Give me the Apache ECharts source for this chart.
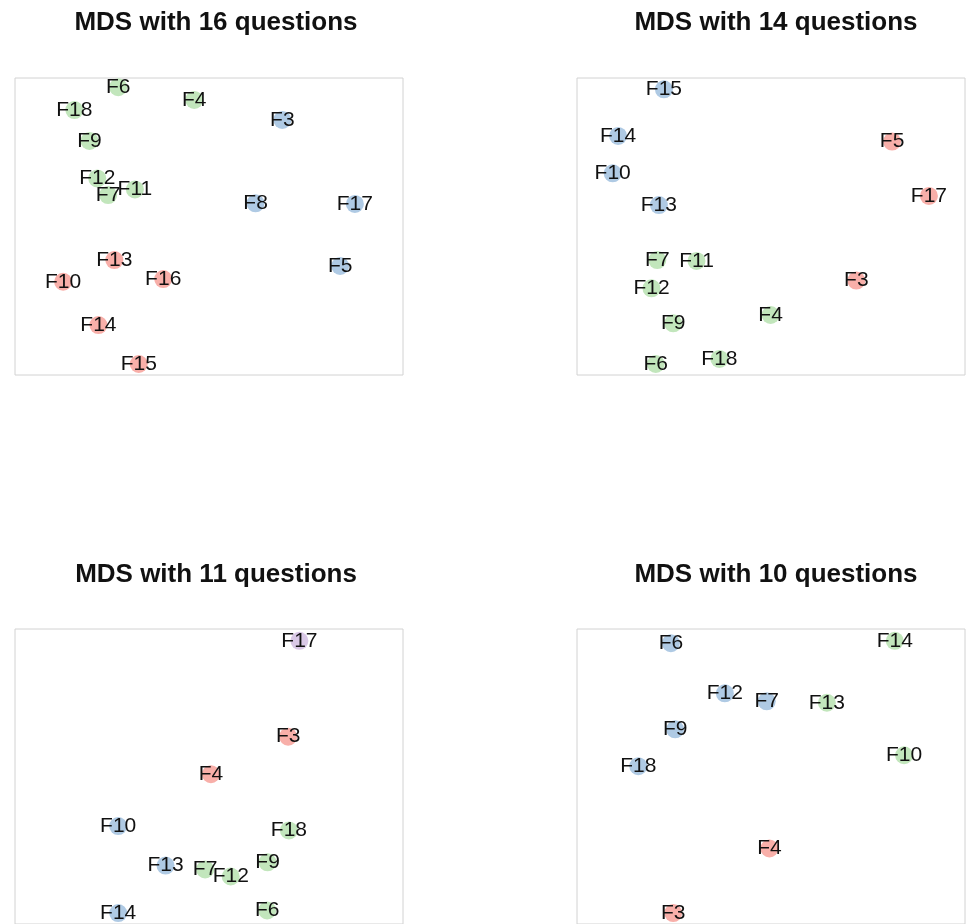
<!DOCTYPE html>
<html>
<head>
<meta charset="utf-8">
<script src="https://cdn.jsdelivr.net/npm/echarts@6/dist/echarts.min.js"></script>
<style>
html,body{margin:0;padding:0;background:#fff;}
#chart{width:966px;height:924px;}
</style>
</head>
<body>
<div id="chart"></div>
<script>
// Panel titles
const titles = ["MDS with 16 questions", "MDS with 14 questions", "MDS with 11 questions", "MDS with 10 questions"];

// Panel 1: 16 questions (relative MDS coordinates, 0-100)
const p1Names = ["F6","F18","F4","F3","F9","F12","F7","F11","F8","F17","F13","F10","F16","F5","F14","F15"];
const p1X     = [26.6, 15.3, 46.2, 68.9, 19.2, 21.2, 24.0, 30.9, 62.0, 87.6, 25.6, 12.4, 38.2, 83.8, 21.5, 31.9];
const p1Y     = [96.9, 89.2, 92.6, 85.9, 78.8, 66.2, 60.6, 62.5, 57.8, 57.6, 38.7, 31.4, 32.3, 36.7, 16.8, 3.7];
const p1Group = ["g","g","g","b","g","g","g","g","b","b","r","r","r","b","r","r"];

// Panel 2: 14 questions
const p2Names = ["F15","F14","F10","F13","F5","F17","F7","F11","F12","F3","F9","F4","F6","F18"];
const p2X     = [22.4, 10.6, 9.2, 21.1, 81.2, 90.7, 20.7, 30.8, 19.2, 72.0, 24.8, 49.9, 20.3, 36.7];
const p2Y     = [96.2, 80.5, 67.9, 57.2, 78.6, 60.3, 38.7, 38.4, 29.2, 31.8, 17.4, 20.2, 3.7, 5.4];
const p2Group = ["b","b","b","b","r","r","g","g","g","r","g","g","g","g"];

// Panel 3: 11 questions
const p3Names = ["F17","F3","F4","F10","F18","F13","F7","F12","F9","F14","F6"];
const p3X     = [73.3, 70.4, 50.5, 26.6, 70.6, 38.8, 49.0, 55.6, 65.1, 26.6, 65.0];
const p3Y     = [96.0, 63.5, 50.8, 33.2, 31.7, 19.8, 18.5, 16.1, 20.9, 3.7, 4.6];
const p3Group = ["p","r","r","b","g","b","g","g","g","b","g"];

// Panel 4: 10 questions
const p4Names = ["F6","F14","F12","F7","F13","F9","F10","F18","F4","F3"];
const p4X     = [24.2, 81.9, 38.1, 48.9, 64.4, 25.3, 84.3, 15.8, 49.6, 24.8];
const p4Y     = [95.2, 96.0, 78.2, 75.5, 75.0, 66.0, 57.2, 53.5, 25.6, 3.7];
const p4Group = ["b","g","b","b","g","b","g","b","r","r"];

const groupColors = { r: "#F8AFA9", b: "#AFCAE4", g: "#C2E6BC", p: "#D9C8E6" };

const panels = [
  { names: p1Names, x: p1X, y: p1Y, g: p1Group },
  { names: p2Names, x: p2X, y: p2Y, g: p2Group },
  { names: p3Names, x: p3X, y: p3Y, g: p3Group },
  { names: p4Names, x: p4X, y: p4Y, g: p4Group }
];

const gridPos = [
  { left: 15,  top: 78,  width: 388, height: 297 },
  { left: 577, top: 78,  width: 388, height: 297 },
  { left: 15,  top: 629, width: 388, height: 297 },
  { left: 577, top: 629, width: 388, height: 297 }
];
const titleCenters = [[211, 5], [771, 5], [211, 557], [771, 557]];

const option = {
  backgroundColor: "#ffffff",
  animation: false,
  title: titles.map((t, i) => ({
    text: t,
    left: titleCenters[i][0],
    top: titleCenters[i][1],
    textAlign: "center",
    textStyle: { fontFamily: "Liberation Sans, Arial, sans-serif", fontWeight: "bold", fontSize: 26, color: "#111" }
  })),
  grid: gridPos.map(p => Object.assign({ show: true, borderColor: "#d2d2d2", borderWidth: 1, backgroundColor: "#fff" }, p)),
  xAxis: gridPos.map((p, i) => ({ type: "value", gridIndex: i, min: 0, max: 100, show: false })),
  yAxis: gridPos.map((p, i) => ({ type: "value", gridIndex: i, min: 0, max: 100, show: false })),
  series: panels.map((pn, i) => ({
    type: "scatter",
    xAxisIndex: i,
    yAxisIndex: i,
    symbol: "circle",
    symbolSize: 18,
    clip: false,
    data: pn.names.map((n, k) => ({
      name: n,
      value: [pn.x[k], pn.y[k]],
      itemStyle: { color: groupColors[pn.g[k]], opacity: 1 }
    })),
    label: {
      show: true,
      position: "inside",
      formatter: "{b}",
      fontFamily: "Liberation Sans, Arial, sans-serif",
      fontSize: 21,
      color: "#111"
    },
    labelLayout: { hideOverlap: false }
  }))
};

const chart = echarts.init(document.getElementById("chart"), null, { renderer: "canvas" });
chart.setOption(option);
</script>
</body>
</html>
